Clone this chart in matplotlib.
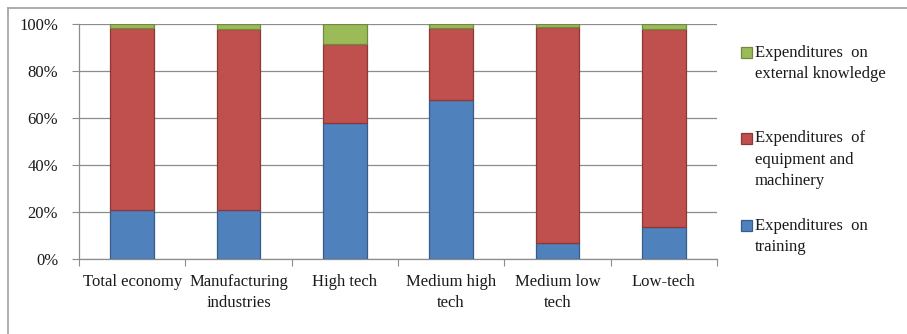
import matplotlib
matplotlib.use("Agg")
import matplotlib.pyplot as plt
from matplotlib.patches import Rectangle
from matplotlib.lines import Line2D
import numpy as np

categories = ["Total economy", "Manufacturing\nindustries", "High tech",
              "Medium high\ntech", "Medium low\ntech", "Low-tech"]
training = [21.0, 21.0, 58.0, 67.7, 6.9, 13.7]
equipment = [77.3, 76.7, 33.4, 30.5, 92.0, 84.0]
external = [1.7, 2.3, 8.6, 1.8, 1.1, 2.3]
yticklabels = ["0%", "20%", "40%", "60%", "80%", "100%"]
legend_labels = [["Expenditures  on", "external knowledge"],
                 ["Expenditures  of", "equipment and", "machinery"],
                 ["Expenditures  on", "training"]]

plt.rcParams['font.family'] = ['Liberation Serif', 'DejaVu Serif']
FS = 12

W, H = 907, 334
fig = plt.figure(figsize=(W / 100, H / 100), dpi=100)
fig.patch.set_facecolor("white")

# chart frame (top and left visible)
fig.add_artist(Line2D([8 / W, 8 / W], [0, 1 - 7.5 / H], color="#A0A0A0", lw=1.2,
                      transform=fig.transFigure))
fig.add_artist(Line2D([8 / W, 1], [1 - 7.5 / H, 1 - 7.5 / H], color="#A0A0A0", lw=1.2,
                      transform=fig.transFigure))

left, right, top, bottom = 79, 717, 24, 259
ax = fig.add_axes([left / W, 1 - bottom / H, (right - left) / W, (bottom - top) / H])

x = np.arange(len(categories))
bw = 0.41
colors = ["#4F81BD", "#C0504D", "#9BBB59"]
edges = ["#385D8A", "#8C3836", "#71893F"]
series = [training, equipment, external]
base = np.zeros(len(categories))
for vals, c, e in zip(series, colors, edges):
    vals = np.array(vals)
    ax.bar(x, vals, bw, bottom=base, color=c, edgecolor=e, linewidth=0.9, zorder=3)
    base = base + vals

ax.set_xlim(-0.5, len(categories) - 0.5)
ax.set_ylim(0, 100)
ax.set_yticks(np.arange(0, 101, 20))
ax.set_yticklabels(yticklabels, fontsize=FS, color="#1a1a1a")
ax.yaxis.grid(True, color="#8C8C8C", lw=0.9, zorder=0)
ax.set_axisbelow(True)

ax.set_xticks(np.arange(-0.5, len(categories) - 0.4, 1.0))
ax.set_xticklabels([])
ax.set_xticks(x, minor=True)
ax.set_xticklabels(categories, minor=True, fontsize=FS, color="#1a1a1a", linespacing=1.38,
                   va="top")
ax.tick_params(axis="x", which="minor", length=0, pad=11)
ax.tick_params(axis="x", which="major", length=5, color="#8C8C8C", direction="out")
ax.tick_params(axis="y", length=5, color="#8C8C8C", direction="out", pad=10)

for s in ["top", "right"]:
    ax.spines[s].set_visible(False)
for s in ["left", "bottom"]:
    ax.spines[s].set_color("#8C8C8C")
    ax.spines[s].set_linewidth(0.9)

# legend (manual)
leg_colors = [colors[2], colors[1], colors[0]]
leg_edges = [edges[2], edges[1], edges[0]]
leg_y = [52.7, 138, 225.7]
line_gap = 21.5
for lab, c, e, y0 in zip(legend_labels, leg_colors, leg_edges, leg_y):
    fig.add_artist(Rectangle(((741) / W, 1 - (y0 + 5.5) / H), 11 / W, 11 / H,
                             facecolor=c, edgecolor=e, lw=0.9, transform=fig.transFigure))
    for i, line in enumerate(lab):
        fig.text(755 / W, 1 - (y0 + i * line_gap) / H, line, fontsize=FS,
                 color="#1a1a1a", va="center", ha="left")

fig.savefig("out.png", dpi=100, facecolor="white")
